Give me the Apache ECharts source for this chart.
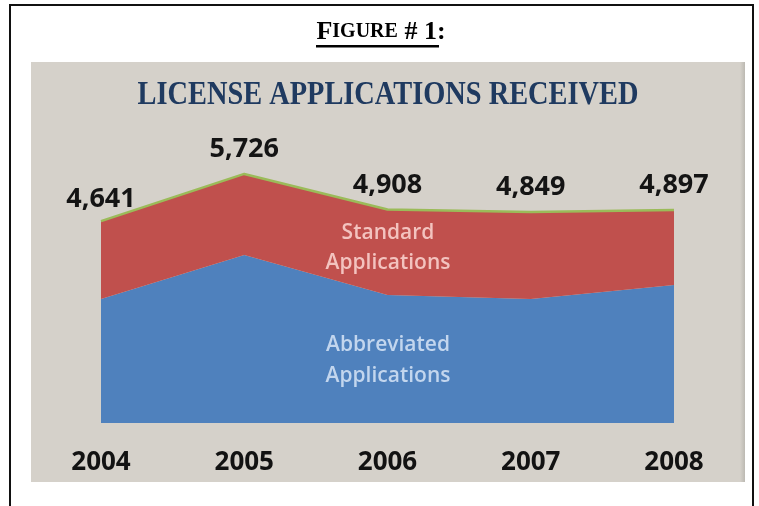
<!DOCTYPE html>
<html>
<head>
<meta charset="utf-8">
<script src="https://cdn.jsdelivr.net/npm/echarts@6/dist/echarts.min.js"></script>
<style>
  html, body { margin: 0; padding: 0; background: #ffffff; }
  #frame { position: absolute; left: 9px; top: 4px; width: 741px; height: 520px; border: 2px solid #111; border-bottom: none; box-sizing: content-box; }
  #panel { position: absolute; left: 31px; top: 62px; width: 714px; height: 420px; background: #d5d1ca; }
  #shade { position: absolute; left: 740px; top: 62px; width: 5px; height: 420px; background: linear-gradient(to right, #d5d1ca, #bcb9b2); }
  #chart { position: absolute; left: 0; top: 0; width: 759px; height: 506px; }
</style>
</head>
<body>
<div id="frame"></div>
<div id="panel"></div>
<div id="shade"></div>
<div id="chart"></div>
<script>
// ---- data ----
var years = ['2004', '2005', '2006', '2007', '2008'];
var abbreviated = [2851, 3863, 2943, 2851, 3173];
var standard = [1790, 1863, 1965, 1998, 1724];
var totals = [4641, 5726, 4908, 4849, 4897];

var chart = echarts.init(document.getElementById('chart'), null, { renderer: 'canvas' });

function fmt(v) { return String(v).replace(/\B(?=(\d{3})+(?!\d))/g, ','); }

var totalData = totals.map(function (v, i) {
  return i === 0 ? { value: v, label: { offset: [0, 3] } } : v;
});

chart.setOption({
  backgroundColor: 'transparent',
  animation: false,
  grid: { left: 101, right: 85, top: 162, bottom: 83, containLabel: false },
  xAxis: {
    type: 'category',
    data: years,
    boundaryGap: false,
    axisLine: { show: false },
    axisTick: { show: false },
    splitLine: { show: false },
    axisLabel: {
      margin: 27,
      fontFamily: 'Open Sans',
      fontWeight: 'bold',
      fontSize: 26,
      color: '#121212'
    }
  },
  yAxis: {
    type: 'value',
    min: 0,
    max: 6000,
    show: false,
    splitLine: { show: false }
  },
  series: [
    {
      name: 'Abbreviated Applications',
      type: 'line',
      stack: 'apps',
      data: abbreviated,
      symbol: 'none',
      lineStyle: { width: 0 },
      itemStyle: { color: '#4f81bd' },
      areaStyle: { color: '#4f81bd', opacity: 1 },
      z: 2
    },
    {
      name: 'Standard Applications',
      type: 'line',
      stack: 'apps',
      data: standard,
      symbol: 'none',
      lineStyle: { width: 0 },
      itemStyle: { color: '#c0504d' },
      areaStyle: { color: '#c0504d', opacity: 1 },
      z: 2
    },
    {
      name: 'Total',
      type: 'line',
      data: totalData,
      symbol: 'circle',
      symbolSize: 0.1,
      showSymbol: true,
      showAllSymbol: true,
      lineStyle: { width: 2.5, color: '#9bbb59' },
      itemStyle: { color: '#9bbb59' },
      z: 3,
      label: {
        show: true,
        position: 'top',
        distance: 11,
        fontFamily: 'Open Sans',
        fontWeight: 'bold',
        fontSize: 27,
        color: '#141414',
        formatter: function (p) { return fmt(p.value); }
      }
    }
  ],
  graphic: [
    {
      type: 'text',
      x: 381, y: 32,
      style: {
        text: '{b|F}{s|IGURE}{b| # 1:}',
        textAlign: 'center',
        textVerticalAlign: 'middle',
        rich: {
          b: { fontFamily: 'Liberation Serif', fontWeight: 'bold', fontSize: 26, fill: '#000' },
          s: { fontFamily: 'Liberation Serif', fontWeight: 'bold', fontSize: 20, fill: '#000' }
        }
      }
    },
    {
      type: 'rect',
      shape: { x: 316, y: 45, width: 123, height: 2.5 },
      style: { fill: '#000' }
    },
    {
      type: 'text',
      x: 388, y: 95,
      scaleX: 0.86,
      style: {
        text: 'LICENSE APPLICATIONS RECEIVED',
        textAlign: 'center',
        textVerticalAlign: 'middle',
        fontFamily: 'Liberation Serif',
        fontWeight: 'bold',
        fontSize: 33,
        fill: '#1f3a60'
      }
    },
    {
      type: 'text',
      x: 388, y: 248,
      z: 10,
      style: {
        text: 'Standard\nApplications',
        textAlign: 'center',
        textVerticalAlign: 'middle',
        fontFamily: 'Open Sans',
        fontWeight: 600,
        fontSize: 21,
        lineHeight: 30,
        fill: '#f3c3bf'
      }
    },
    {
      type: 'text',
      x: 388, y: 361,
      z: 10,
      style: {
        text: 'Abbreviated\nApplications',
        textAlign: 'center',
        textVerticalAlign: 'middle',
        fontFamily: 'Open Sans',
        fontWeight: 600,
        fontSize: 21,
        lineHeight: 31,
        fill: '#c3d6ee'
      }
    }
  ]
});
</script>
</body>
</html>
